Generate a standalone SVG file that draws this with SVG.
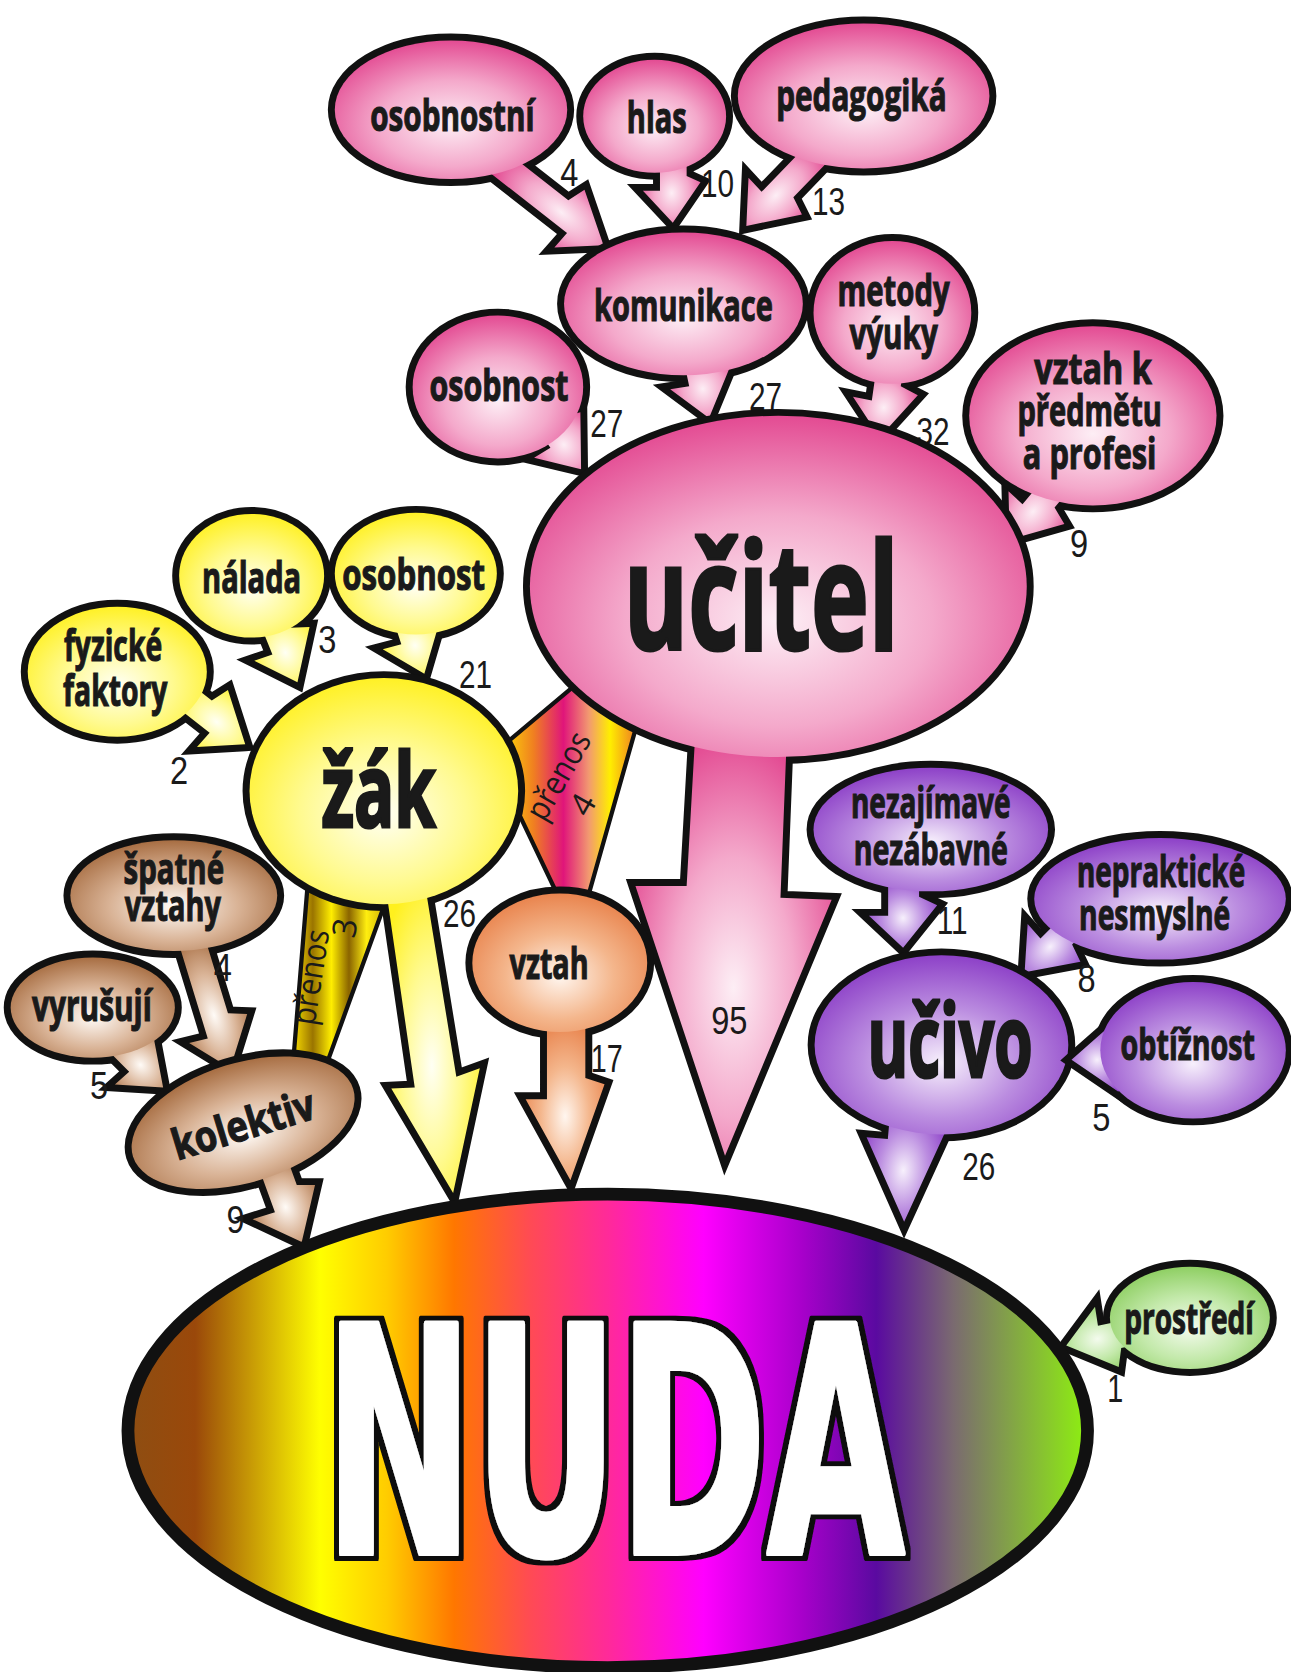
<svg xmlns="http://www.w3.org/2000/svg" xmlns:xlink="http://www.w3.org/1999/xlink" width="1291" height="1672" viewBox="0 0 1291 1672">
<defs>
<radialGradient id="gPk" cx="0.5" cy="0.6" r="0.62"><stop offset="0" stop-color="#fdeef5"/><stop offset="0.5" stop-color="#f4a9cb"/><stop offset="1" stop-color="#e2458f"/></radialGradient>
<radialGradient id="gYe" cx="0.5" cy="0.6" r="0.62"><stop offset="0" stop-color="#fffff4"/><stop offset="0.5" stop-color="#fffa90"/><stop offset="1" stop-color="#fff01e"/></radialGradient>
<radialGradient id="gBr" cx="0.5" cy="0.6" r="0.62"><stop offset="0" stop-color="#fffbf7"/><stop offset="0.5" stop-color="#d9b396"/><stop offset="1" stop-color="#a4693d"/></radialGradient>
<radialGradient id="gOr" cx="0.5" cy="0.6" r="0.62"><stop offset="0" stop-color="#fff6ef"/><stop offset="0.5" stop-color="#f4b68c"/><stop offset="1" stop-color="#e8814a"/></radialGradient>
<radialGradient id="gPu" cx="0.5" cy="0.6" r="0.62"><stop offset="0" stop-color="#f7f0fc"/><stop offset="0.5" stop-color="#bb8de0"/><stop offset="1" stop-color="#8a3cc6"/></radialGradient>
<radialGradient id="gGr" cx="0.5" cy="0.6" r="0.62"><stop offset="0" stop-color="#f4fbee"/><stop offset="0.5" stop-color="#c3e9aa"/><stop offset="1" stop-color="#8bcd5e"/></radialGradient>
<linearGradient id="gNuda" x1="0" y1="0" x2="1" y2="0">
<stop offset="0" stop-color="#8e4e12"/><stop offset="0.07" stop-color="#9a480a"/><stop offset="0.2" stop-color="#ffff00"/><stop offset="0.27" stop-color="#ffcc00"/><stop offset="0.34" stop-color="#ff7700"/><stop offset="0.42" stop-color="#ff4a55"/><stop offset="0.5" stop-color="#ff2a99"/><stop offset="0.6" stop-color="#ff00ff"/><stop offset="0.7" stop-color="#aa00cc"/><stop offset="0.78" stop-color="#5a0aa0"/><stop offset="0.86" stop-color="#7a6a70"/><stop offset="1" stop-color="#8ef010"/>
</linearGradient>
<linearGradient id="gP3" x1="0" y1="0" x2="1" y2="0">
<stop offset="0" stop-color="#ffe400"/><stop offset="0.2" stop-color="#9a7400"/><stop offset="0.38" stop-color="#ffee00"/><stop offset="0.55" stop-color="#8a6400"/><stop offset="0.72" stop-color="#ffee10"/><stop offset="1" stop-color="#b08c00"/>
</linearGradient>
<linearGradient id="gP4" x1="0" y1="0" x2="1" y2="0">
<stop offset="0" stop-color="#ffee00"/><stop offset="0.25" stop-color="#f08020"/><stop offset="0.45" stop-color="#e0157a"/><stop offset="0.62" stop-color="#f29a70"/><stop offset="0.76" stop-color="#ffee00"/><stop offset="1" stop-color="#e85030"/>
</linearGradient>
<filter id="fOut" x="-5%" y="-10%" width="110%" height="120%">
<feMorphology in="SourceAlpha" operator="dilate" radius="8 5" result="d"/>
<feFlood flood-color="#111"/>
<feComposite in2="d" operator="in" result="o"/>
<feMerge><feMergeNode in="o"/><feMergeNode in="SourceGraphic"/></feMerge>
</filter>
</defs>
<style>
.ol{fill:#111;stroke:#111;stroke-width:13;stroke-linejoin:miter;stroke-miterlimit:12}
.pk{fill:url(#gPk)}.ye{fill:url(#gYe)}.br{fill:url(#gBr)}.or{fill:url(#gOr)}.pu{fill:url(#gPu)}.gr{fill:url(#gGr)}
.lb{font-family:"Open Sans","Liberation Sans",sans-serif;font-weight:700;font-size:40px;fill:#1a1a1a;stroke:#1a1a1a;stroke-width:1.1;text-anchor:middle;transform-box:fill-box;transform-origin:center;transform:scaleX(0.72)}
.big{stroke-width:3}
.num{font-family:"Liberation Sans",Arial,sans-serif;font-size:36px;fill:#1a1a1a;text-anchor:middle}
.band{stroke:#111;stroke-width:4;stroke-linejoin:round}
.bt{font-family:"Open Sans","Liberation Sans",sans-serif;font-size:31px;fill:#1a1a1a;text-anchor:middle}
.nuda{font-family:"DejaVu Sans","Liberation Sans",sans-serif;font-weight:700;font-size:296px;text-anchor:middle;fill:#fff;stroke:#fff;stroke-width:5;stroke-linejoin:round;transform-box:fill-box;transform-origin:center;transform:scaleX(0.6)}
</style>
<rect width="1291" height="1672" fill="#ffffff"/>
<g transform="scale(1.0662)">

<g id="connectors">
<polygon class="band" fill="url(#gP3)" points="290,812 371,820 302,1010 274,1008"/>
<polygon class="band" fill="url(#gP4)" points="465,705 552,632 606,649 549,850 528,850 478,745"/>
<text class="bt" transform="translate(302,918) rotate(-81)" textLength="90" lengthAdjust="spacingAndGlyphs">přenos</text>
<text class="bt" transform="translate(334,872) rotate(-81)">3</text>
<text class="bt" transform="translate(533,733) rotate(-60)" textLength="90" lengthAdjust="spacingAndGlyphs">přenos</text>
<text class="bt" transform="translate(556,760) rotate(-60)">4</text>
</g>

<g id="n-osobnostni">
<g class="ol"><g id="s1"><polygon points="0,0 -30,-35 -12,-34 -12,-125 13,-125 13,-52 30,-46" transform="translate(566,230) rotate(-52)"/><ellipse cx="423" cy="103" rx="109" ry="65"/></g></g>
<use href="#s1" class="pk"/>
<text class="lb" x="424" y="123" textLength="214" lengthAdjust="spacingAndGlyphs">osobnostní</text>
<text class="num" x="534" y="174" textLength="17" lengthAdjust="spacingAndGlyphs">4</text>
</g>

<g id="n-hlas">
<g class="ol"><g id="s2"><polygon points="0,0 -28,-30 -12,-30 -12,-70 13,-70 13,-44 26,-38" transform="translate(631,209)"/><ellipse cx="614" cy="109" rx="67" ry="53"/></g></g>
<use href="#s2" class="pk"/>
<text class="lb" x="616" y="125" textLength="78" lengthAdjust="spacingAndGlyphs">hlas</text>
<text class="num" x="673" y="185" textLength="31" lengthAdjust="spacingAndGlyphs">10</text>
</g>

<g id="n-pedagogika">
<g class="ol"><g id="s3"><polygon points="0,0 -30,-34 -12,-33 -12,-100 13,-100 13,-50 30,-44" transform="translate(700,212) rotate(44)"/><ellipse cx="810" cy="90" rx="118" ry="68"/></g></g>
<use href="#s3" class="pk"/>
<text class="lb" x="808" y="104" textLength="222" lengthAdjust="spacingAndGlyphs">pedagogiká</text>
<text class="num" x="777" y="202" textLength="31" lengthAdjust="spacingAndGlyphs">13</text>
</g>

<g id="n-komunikace">
<g class="ol"><g id="s4"><polygon points="0,0 -30,-34 -12,-33 -12,-70 13,-70 13,-50 30,-44" transform="translate(665,392) rotate(-12)"/><ellipse cx="641" cy="285" rx="112" ry="67"/></g></g>
<use href="#s4" class="pk"/>
<text class="lb" x="641" y="301" textLength="233" lengthAdjust="spacingAndGlyphs">komunikace</text>
<text class="num" x="718" y="385" textLength="31" lengthAdjust="spacingAndGlyphs">27</text>
</g>

<g id="n-metody">
<g class="ol"><g id="s5"><polygon points="0,0 -30,-34 -12,-33 -12,-70 13,-70 13,-50 30,-44" transform="translate(825,410) rotate(8)"/><ellipse cx="837" cy="293" rx="74" ry="67"/></g></g>
<use href="#s5" class="pk"/>
<text class="lb" x="838" y="287" textLength="146" lengthAdjust="spacingAndGlyphs">metody</text>
<text class="lb" x="838" y="327" textLength="115" lengthAdjust="spacingAndGlyphs">výuky</text>
<text class="num" x="875" y="417" textLength="31" lengthAdjust="spacingAndGlyphs">32</text>
</g>

<g id="n-osobnost-u">
<g class="ol"><g id="s6"><polygon points="0,0 -30,-34 -12,-33 -12,-70 13,-70 13,-50 30,-44" transform="translate(545,440) rotate(-35)"/><ellipse cx="467" cy="363" rx="80" ry="67"/></g></g>
<use href="#s6" class="pk"/>
<text class="lb" x="468" y="376" textLength="181" lengthAdjust="spacingAndGlyphs">osobnost</text>
<text class="num" x="569" y="410" textLength="31" lengthAdjust="spacingAndGlyphs">27</text>
</g>

<g id="n-vztah-k-predmetu">
<g class="ol"><g id="s7"><polygon points="0,0 -30,-34 -12,-33 -12,-85 13,-85 13,-50 30,-44" transform="translate(947,506) rotate(40)"/><ellipse cx="1025" cy="390" rx="116" ry="84"/></g></g>
<use href="#s7" class="pk"/>
<text class="lb" x="1025" y="360" textLength="153" lengthAdjust="spacingAndGlyphs">vztah k</text>
<text class="lb" x="1022" y="400" textLength="188" lengthAdjust="spacingAndGlyphs">předmětu</text>
<text class="lb" x="1022" y="440" textLength="174" lengthAdjust="spacingAndGlyphs">a profesi</text>
<text class="num" x="1012" y="522" textLength="17" lengthAdjust="spacingAndGlyphs">9</text>
</g>

<g id="n-ucitel">
<g class="ol"><g id="s8"><polygon points="652,690 644,831 596,831 680,1084 780,844 732,842 738,690"/><ellipse cx="730" cy="550" rx="233" ry="160"/></g></g>
<use href="#s8" class="pk"/>
<text class="lb big" x="714" y="610" style="font-size:140px" textLength="358" lengthAdjust="spacingAndGlyphs">učitel</text>
<text class="num" x="684" y="970" textLength="34" lengthAdjust="spacingAndGlyphs">95</text>
</g>

<g id="n-nalada">
<g class="ol"><g id="s9"><polygon points="0,0 -30,-34 -12,-33 -12,-75 13,-75 13,-50 30,-44" transform="translate(279,640) rotate(-22)"/><ellipse cx="236" cy="540" rx="68" ry="58"/></g></g>
<use href="#s9" class="ye"/>
<text class="lb" x="236" y="556" textLength="129" lengthAdjust="spacingAndGlyphs">nálada</text>
<text class="num" x="307" y="612" textLength="17" lengthAdjust="spacingAndGlyphs">3</text>
</g>

<g id="n-osobnost-z">
<g class="ol"><g id="s10"><polygon points="0,0 -30,-34 -12,-33 -12,-70 13,-70 13,-50 30,-44" transform="translate(398,632) rotate(-18)"/><ellipse cx="390" cy="538" rx="76" ry="57"/></g></g>
<use href="#s10" class="ye"/>
<text class="lb" x="388" y="553" textLength="186" lengthAdjust="spacingAndGlyphs">osobnost</text>
<text class="num" x="446" y="645" textLength="31" lengthAdjust="spacingAndGlyphs">21</text>
</g>

<g id="n-fyzicke">
<g class="ol"><g id="s11"><polygon points="0,0 -30,-34 -12,-33 -12,-85 13,-85 13,-50 30,-44" transform="translate(230,698) rotate(-52)"/><ellipse cx="110" cy="630" rx="84" ry="61"/></g></g>
<use href="#s11" class="ye"/>
<text class="lb" x="106" y="620" textLength="128" lengthAdjust="spacingAndGlyphs">fyzické</text>
<text class="lb" x="108" y="662" textLength="136" lengthAdjust="spacingAndGlyphs">faktory</text>
<text class="num" x="168" y="735" textLength="17" lengthAdjust="spacingAndGlyphs">2</text>
</g>

<g id="n-zak">
<g class="ol"><g id="s12"><polygon points="360,820 389,1020 367,1021 425,1119 450,1002 428,1010 397,820"/><ellipse cx="360" cy="742" rx="126" ry="106"/></g></g>
<use href="#s12" class="ye"/>
<text class="lb big" x="355" y="776" style="font-size:96px" textLength="149" lengthAdjust="spacingAndGlyphs">žák</text>
<text class="num" x="431" y="869" textLength="31" lengthAdjust="spacingAndGlyphs">26</text>
</g>

<g id="n-spatne-vztahy">
<g class="ol"><g id="s13"><polygon points="0,0 -30,-34 -12,-33 -12,-130 13,-130 13,-50 30,-44" transform="translate(216,1002) rotate(-17)"/><ellipse cx="163" cy="840" rx="97" ry="52"/></g></g>
<use href="#s13" class="br"/>
<text class="lb" x="163" y="829" textLength="131" lengthAdjust="spacingAndGlyphs">špatné</text>
<text class="lb" x="162" y="864" textLength="125" lengthAdjust="spacingAndGlyphs">vztahy</text>
<text class="num" x="209" y="920" textLength="17" lengthAdjust="spacingAndGlyphs">4</text>
</g>

<g id="n-vyrusuji">
<g class="ol"><g id="s14"><polygon points="0,0 -30,-34 -12,-33 -12,-75 13,-75 13,-50 30,-44" transform="translate(153,1020) rotate(-45)"/><ellipse cx="87" cy="945" rx="77" ry="47"/></g></g>
<use href="#s14" class="br"/>
<text class="lb" x="86" y="958" textLength="156" lengthAdjust="spacingAndGlyphs">vyrušují</text>
<text class="num" x="93" y="1031" textLength="17" lengthAdjust="spacingAndGlyphs">5</text>
</g>

<g id="n-kolektiv">
<g class="ol"><g id="s15"><polygon points="0,0 -36,-36 -14,-35 -14,-90 14,-90 14,-52 30,-46" transform="translate(283,1165) rotate(-20)"/><ellipse cx="228" cy="1053" rx="108" ry="56" transform="rotate(-17 228 1053)"/></g></g>
<use href="#s15" class="br"/>
<g transform="translate(228,1055) rotate(-17)"><text class="lb" x="0" y="14" textLength="192" lengthAdjust="spacingAndGlyphs">kolektiv</text></g>
<text class="num" x="221" y="1156" textLength="17" lengthAdjust="spacingAndGlyphs">9</text>
</g>

<g id="n-vztah">
<g class="ol"><g id="s16"><polygon points="0,0 -42,-76 -22,-76 -22,-150 14,-150 14,-96 32,-90" transform="translate(535,1107)"/><ellipse cx="525" cy="903" rx="82" ry="65"/></g></g>
<use href="#s16" class="or"/>
<text class="lb" x="515" y="918" textLength="103" lengthAdjust="spacingAndGlyphs">vztah</text>
<text class="num" x="569" y="1005" textLength="30" lengthAdjust="spacingAndGlyphs">17</text>
</g>

<g id="n-nezajimave">
<g class="ol"><g id="s17"><polygon points="0,0 -32,-30 -14,-30 -14,-70 15,-70 15,-48 32,-40" transform="translate(847,889)"/><ellipse cx="873" cy="778" rx="110" ry="58"/></g></g>
<use href="#s17" class="pu"/>
<text class="lb" x="873" y="767" textLength="208" lengthAdjust="spacingAndGlyphs">nezajímavé</text>
<text class="lb" x="873" y="811" textLength="201" lengthAdjust="spacingAndGlyphs">nezábavné</text>
<text class="num" x="893" y="876" textLength="29" lengthAdjust="spacingAndGlyphs">11</text>
</g>

<g id="n-neprakticke">
<g class="ol"><g id="s18"><polygon points="0,0 -30,-34 -12,-33 -12,-85 13,-85 13,-50 30,-44" transform="translate(961,912) rotate(45)"/><ellipse cx="1088" cy="843" rx="118" ry="57"/></g></g>
<use href="#s18" class="pu"/>
<text class="lb" x="1089" y="832" textLength="219" lengthAdjust="spacingAndGlyphs">nepraktické</text>
<text class="lb" x="1083" y="872" textLength="197" lengthAdjust="spacingAndGlyphs">nesmyslné</text>
<text class="num" x="1019" y="930" textLength="17" lengthAdjust="spacingAndGlyphs">8</text>
</g>

<g id="n-ucivo">
<g class="ol"><g id="s19"><polygon points="0,0 -42,-76 -22,-76 -22,-120 14,-120 14,-96 32,-90" transform="translate(848,1146) rotate(5)"/><ellipse cx="883" cy="980" rx="119" ry="84"/></g></g>
<use href="#s19" class="pu"/>
<text class="lb big" x="891" y="1010" style="font-size:95px" textLength="215" lengthAdjust="spacingAndGlyphs">učivo</text>
<text class="num" x="918" y="1107" textLength="31" lengthAdjust="spacingAndGlyphs">26</text>
</g>

<g id="n-obtiznost">
<g class="ol"><g id="s20"><polygon points="0,0 -30,-34 -12,-33 -12,-60 13,-60 13,-50 30,-44" transform="translate(1005,994) rotate(90)"/><ellipse cx="1119" cy="985" rx="87" ry="64"/></g></g>
<use href="#s20" class="pu"/>
<text class="lb" x="1114" y="994" textLength="175" lengthAdjust="spacingAndGlyphs">obtížnost</text>
<text class="num" x="1033" y="1061" textLength="17" lengthAdjust="spacingAndGlyphs">5</text>
</g>

<g id="n-prostredi">
<g class="ol"><g id="s21"><polygon points="0,0 -30,-34 -12,-33 -12,-75 13,-75 13,-50 30,-44" transform="translate(1000,1262) rotate(78)"/><ellipse cx="1116" cy="1236" rx="75" ry="48"/></g></g>
<use href="#s21" class="gr"/>
<text class="lb" x="1115" y="1251" textLength="169" lengthAdjust="spacingAndGlyphs">prostředí</text>
<text class="num" x="1046" y="1315" textLength="15" lengthAdjust="spacingAndGlyphs">1</text>
</g>

<g id="n-nuda">
<ellipse cx="570" cy="1342" rx="450" ry="222" fill="url(#gNuda)" stroke="#111" stroke-width="12"/>
<text class="nuda" x="576" y="1457" textLength="908" lengthAdjust="spacingAndGlyphs" filter="url(#fOut)">NUDA</text>
</g>

</g>
</svg>
